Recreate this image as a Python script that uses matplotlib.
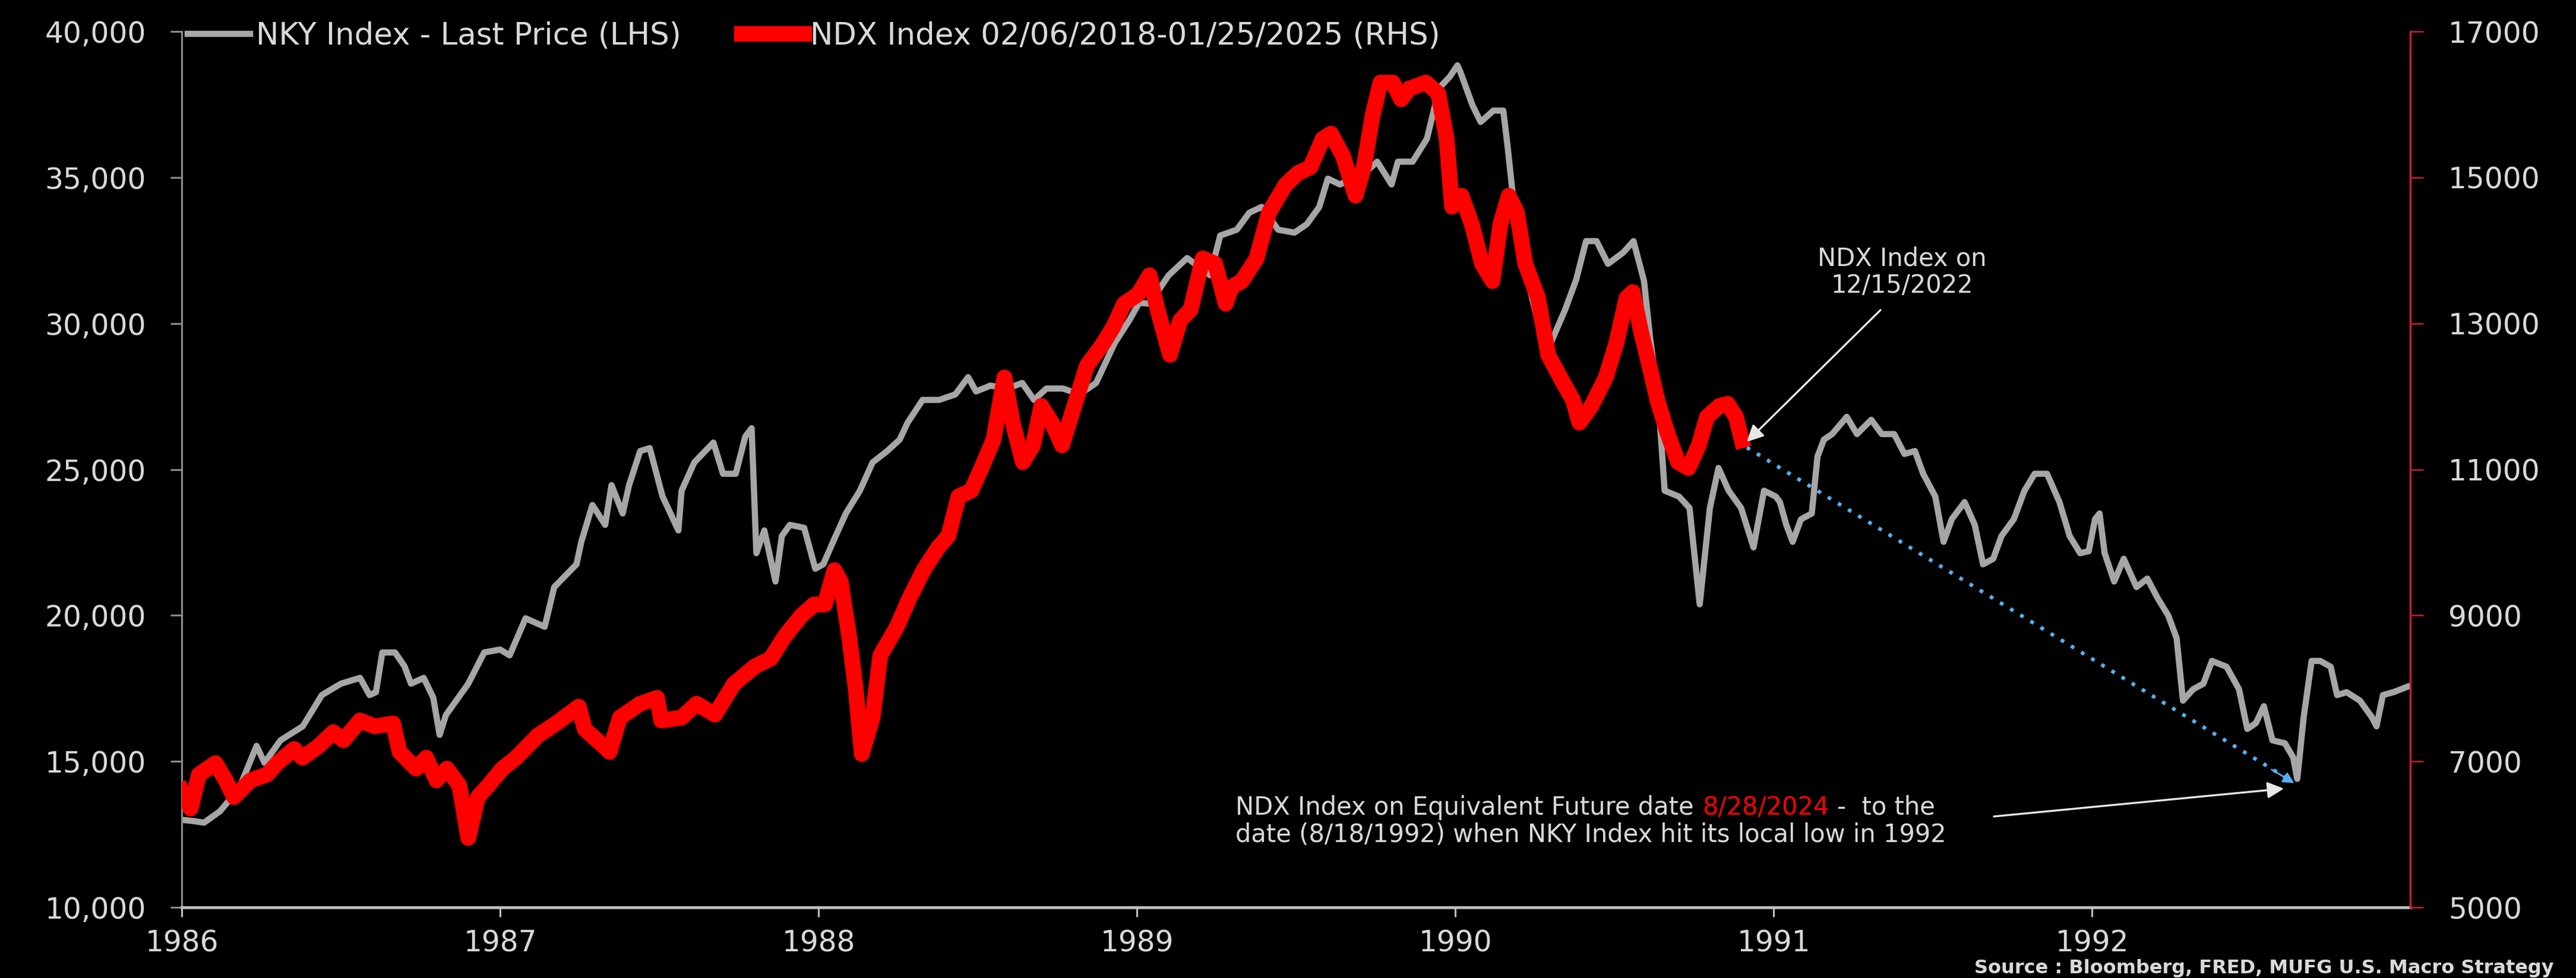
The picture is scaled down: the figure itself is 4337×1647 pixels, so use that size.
import matplotlib
matplotlib.use('Agg')
import matplotlib.pyplot as plt
from matplotlib.ticker import FuncFormatter

# ---------------- data (decimal years) ----------------
nky_t = [1986.00, 1986.04, 1986.07, 1986.12, 1986.18, 1986.235, 1986.26, 1986.31, 1986.38, 1986.44,
         1986.50, 1986.56, 1986.59, 1986.61, 1986.63, 1986.67, 1986.70, 1986.72, 1986.76, 1986.79,
         1986.81, 1986.83, 1986.90, 1986.95, 1987.00, 1987.03, 1987.08, 1987.14, 1987.17, 1987.24,
         1987.255, 1987.29, 1987.33, 1987.35, 1987.385, 1987.405, 1987.44, 1987.47, 1987.51, 1987.56,
         1987.57, 1987.61, 1987.67, 1987.70, 1987.74, 1987.77, 1987.79, 1987.805, 1987.83, 1987.865,
         1987.885, 1987.91, 1987.955, 1987.99, 1988.015, 1988.054, 1988.086, 1988.13, 1988.17, 1988.216,
         1988.255, 1988.28, 1988.327, 1988.379, 1988.43, 1988.47, 1988.495, 1988.54, 1988.593, 1988.64,
         1988.677, 1988.716, 1988.768, 1988.82, 1988.872, 1988.93, 1988.976, 1989.007, 1989.04, 1989.10,
         1989.158, 1989.23, 1989.262, 1989.314, 1989.353, 1989.392, 1989.444, 1989.495, 1989.534, 1989.573,
         1989.60, 1989.638, 1989.677, 1989.716, 1989.755, 1989.80, 1989.82, 1989.866, 1989.911, 1989.95,
         1989.983, 1990.007, 1990.015, 1990.054, 1990.08, 1990.12, 1990.151, 1990.164, 1990.18, 1990.216,
         1990.25, 1990.28, 1990.30, 1990.346, 1990.38, 1990.411, 1990.444, 1990.48, 1990.528, 1990.56,
         1990.593, 1990.612, 1990.638, 1990.658, 1990.703, 1990.736, 1990.768, 1990.80, 1990.827, 1990.859,
         1990.898, 1990.937, 1990.97, 1991.007, 1991.02, 1991.04, 1991.06, 1991.086, 1991.12, 1991.138,
         1991.158, 1991.184, 1991.23, 1991.262, 1991.307, 1991.34, 1991.379, 1991.411, 1991.444, 1991.47,
         1991.508, 1991.534, 1991.56, 1991.60, 1991.632, 1991.658, 1991.69, 1991.716, 1991.755, 1991.788,
         1991.82, 1991.859, 1991.898, 1991.93, 1991.963, 1991.99, 1992.01, 1992.024, 1992.04, 1992.07,
         1992.10, 1992.14, 1992.174, 1992.207, 1992.24, 1992.266, 1992.286, 1992.318, 1992.35, 1992.377,
         1992.423, 1992.462, 1992.488, 1992.515, 1992.54, 1992.567, 1992.606, 1992.632, 1992.645, 1992.665,
         1992.69, 1992.717, 1992.75, 1992.77, 1992.80, 1992.842, 1992.88, 1992.894, 1992.914, 1992.947,
         1992.992]
nky_v = [13000, 12950, 12900, 13290, 14070, 15530, 14950, 15720, 16200, 17270,
         17660, 17860, 17270, 17370, 18730, 18730, 18250, 17660, 17860, 17180,
         15910, 16590, 17660, 18730, 18830, 18630, 19900, 19610, 20970, 21750,
         22520, 23780, 23100, 24460, 23490, 24460, 25630, 25730, 24080, 22910,
         24270, 25240, 25920, 24850, 24850, 26120, 26410, 22130, 22910, 21160,
         22720, 23100, 23000, 21600, 21750, 22720, 23490, 24270, 25240, 25630,
         26020, 26600, 27380, 27380, 27570, 28160, 27670, 27870, 27770, 27960,
         27380, 27770, 27770, 27570, 27960, 29320, 30100, 30700, 30680, 31650,
         32240, 31650, 33010, 33210, 33790, 33990, 33210, 33110, 33400, 33990,
         34960, 34760, 34960, 35150, 35540, 34760, 35540, 35540, 36320, 38070,
         38450, 38840, 38650, 37480, 36900, 37290, 37290, 36120, 34500, 32000,
         30500, 29000, 29320, 30490, 31500, 32820, 32820, 32040, 32430, 32820,
         31460, 29520, 27380, 24270, 24070, 23680, 20380, 23680, 25050, 24270,
         23680, 22330, 24270, 24070, 23880, 23100, 22520, 23290, 23490, 25440,
         26020, 26210, 26800, 26210, 26700, 26210, 26210, 25530, 25630, 24850,
         24070, 22520, 23300, 23880, 23100, 21750, 21940, 22720, 23300, 24270,
         24850, 24850, 23880, 22720, 22130, 22200, 23300, 23490, 22130, 21160,
         21940, 20970, 21260, 20580, 19990, 19220, 17080, 17470, 17660, 18440,
         18240, 17470, 16110, 16310, 16890, 15720, 15620, 15140, 14400, 16500,
         18440, 18440, 18240, 17270, 17370, 17080, 16500, 16200, 17270, 17370,
         17560]

ndx_t = [1986.00, 1986.028, 1986.054, 1986.106, 1986.138, 1986.164, 1986.216, 1986.268, 1986.30, 1986.353,
         1986.379, 1986.43, 1986.476, 1986.508, 1986.56, 1986.606, 1986.664, 1986.684, 1986.736, 1986.768,
         1986.80, 1986.833, 1986.872, 1986.90, 1986.93, 1986.963, 1987.007, 1987.05, 1987.12, 1987.176,
         1987.247, 1987.266, 1987.325, 1987.344, 1987.376, 1987.44, 1987.493, 1987.506, 1987.57, 1987.617,
         1987.675, 1987.734, 1987.80, 1987.85, 1987.896, 1987.947, 1987.986, 1988.02, 1988.05, 1988.07,
         1988.097, 1988.117, 1988.136, 1988.17, 1988.194, 1988.246, 1988.285, 1988.33, 1988.376, 1988.408,
         1988.44, 1988.48, 1988.512, 1988.55, 1988.584, 1988.61, 1988.642, 1988.674, 1988.70, 1988.733,
         1988.765, 1988.798, 1988.843, 1988.895, 1988.927, 1988.96, 1989.004, 1989.04, 1989.065, 1989.104,
         1989.136, 1989.169, 1989.207, 1989.246, 1989.279, 1989.298, 1989.33, 1989.376, 1989.415, 1989.467,
         1989.506, 1989.545, 1989.584, 1989.61, 1989.648, 1989.687, 1989.713, 1989.74, 1989.765, 1989.804,
         1989.83, 1989.856, 1989.908, 1989.947, 1989.973, 1989.99, 1990.02, 1990.052, 1990.084, 1990.117,
         1990.142, 1990.168, 1990.194, 1990.22, 1990.26, 1990.292, 1990.33, 1990.37, 1990.39, 1990.428,
         1990.473, 1990.506, 1990.538, 1990.558, 1990.584, 1990.61, 1990.635, 1990.668, 1990.70, 1990.733,
         1990.765, 1990.791, 1990.83, 1990.856, 1990.882, 1990.90]
ndx_v = [6600, 6354, 6820, 6976, 6740, 6510, 6740, 6820, 6976, 7170,
         7050, 7210, 7400, 7290, 7560, 7480, 7520, 7130, 6900, 7050,
         6740, 6900, 6670, 5950, 6510, 6670, 6900, 7050, 7360, 7520,
         7750, 7440, 7210, 7130, 7600, 7790, 7870, 7560, 7600, 7790,
         7640, 8060, 8300, 8410, 8725, 9000, 9150, 9150, 9620, 9460,
         8690, 7990, 7100, 7600, 8450, 8840, 9230, 9620, 9930, 10090,
         10630, 10710, 11020, 11410, 12260, 11640, 11100, 11330, 11870, 11640,
         11330, 11790, 12420, 12730, 12960, 13270, 13400, 13660, 13190, 12570,
         13040, 13190, 13890, 13820, 13270, 13500, 13580, 13890, 14520, 14900,
         15060, 15140, 15530, 15600, 15290, 14750, 15140, 15840, 16300, 16300,
         16070, 16220, 16300, 16150, 15530, 14600, 14750, 14360, 13820, 13580,
         14360, 14750, 14520, 13820, 13350, 12570, 12260, 11950, 11640, 11870,
         12260, 12730, 13350, 13430, 12880, 12420, 11950, 11480, 11100, 11020,
         11330, 11720, 11870, 11900, 11720, 11400]

year_ticks = [1986, 1987, 1988, 1989, 1990, 1991, 1992]
year_labels = ['1986', '1987', '1988', '1989', '1990', '1991', '1992']
left_ticks = [10000, 15000, 20000, 25000, 30000, 35000, 40000]
right_ticks = [5000, 7000, 9000, 11000, 13000, 15000, 17000]

nky_label = 'NKY Index - Last Price (LHS)'
ndx_label = 'NDX Index 02/06/2018-01/25/2025 (RHS)'

# ---------------- figure ----------------
W, H, DPI = 4337, 1647, 100
fig = plt.figure(figsize=(W / DPI, H / DPI), dpi=DPI, facecolor='black')
ax = fig.add_axes([306 / W, 1 - 1528 / H, (4058 - 306) / W, (1528 - 53) / H])
ax.set_facecolor('black')
ax2 = ax.twinx()

TXT = '#d9d9d9'
GRAY = '#a6a6a6'
RED = '#ff0000'
SPINE_RED = '#c8202a'
BLUE = '#55b0f0'
FS_TICK = 35
FS_ANN = 30

l1, = ax.plot(nky_t, nky_v, color=GRAY, lw=7.5, solid_joinstyle='round', label=nky_label, zorder=2)
l2, = ax2.plot(ndx_t, ndx_v, color=RED, lw=19.0, solid_joinstyle='round', label=ndx_label, zorder=3)

ax.set_xlim(1986, 1993)
ax.set_ylim(10000, 40000)
ax2.set_ylim(5000, 17000)

ax.set_xticks(year_ticks)
ax.set_xticklabels(year_labels)
ax.set_yticks(left_ticks)
ax.yaxis.set_major_formatter(FuncFormatter(lambda v, p: f'{int(v):,}'))
ax2.set_yticks(right_ticks)
ax2.yaxis.set_major_formatter(FuncFormatter(lambda v, p: f'{int(v)}'))

for s in ['top', 'right']:
    ax.spines[s].set_visible(False)
ax.spines['left'].set_color('#8c8c8c')
ax.spines['left'].set_linewidth(2.2)
ax.spines['bottom'].set_color('#bfbfbf')
ax.spines['bottom'].set_linewidth(3.5)
for s in ['top', 'left', 'bottom']:
    ax2.spines[s].set_visible(False)
ax2.spines['right'].set_color(SPINE_RED)
ax2.spines['right'].set_linewidth(2.5)

ax.tick_params(axis='y', direction='out', length=13.5, width=2.2, color='#8c8c8c',
               labelcolor=TXT, labelsize=FS_TICK, pad=30)
ax.tick_params(axis='x', direction='out', length=11.5, width=2.2, color='#bfbfbf',
               labelcolor=TXT, labelsize=FS_TICK, pad=15)
ax2.tick_params(axis='y', direction='out', length=16, width=1.8, color=SPINE_RED,
                labelcolor=TXT, labelsize=FS_TICK, pad=30)

# legend
fig.legend(handles=[l1, l2], labels=[nky_label, ndx_label], loc='upper left',
           bbox_to_anchor=(316 / W, 1 - 36 / H), ncol=2, frameon=False, fontsize=37,
           labelcolor=TXT, handlelength=2.05, handletextpad=0.18, columnspacing=2.0,
           borderpad=0, borderaxespad=0)

# blue dotted connector
ax2.plot([1990.916, 1992.632], [11300, 6717], color=BLUE, lw=4.5,
         linestyle=(0, (1, 2.2)), zorder=4)
ax2.annotate('', xy=(1992.64, 6690), xytext=(1992.56, 6900),
             arrowprops=dict(arrowstyle='-|>', color=BLUE, lw=2, mutation_scale=28), zorder=4)

# annotation 1
ax2.annotate('', xy=(1990.916, 11378), xytext=(1991.336, 13184),
             arrowprops=dict(arrowstyle='-|>', color='#e6e6e6', lw=2.4, mutation_scale=42,
                             shrinkA=0, shrinkB=0), zorder=5)
ax2.text(1991.403, 13700, 'NDX Index on\n12/15/2022', color=TXT, fontsize=FS_ANN,
         ha='center', va='center', multialignment='center', linespacing=1.1, zorder=5)

# annotation 2
ax2.annotate('', xy=(1992.603, 6627), xytext=(1991.692, 6245),
             arrowprops=dict(arrowstyle='-|>', color='#e6e6e6', lw=2.4, mutation_scale=42,
                             shrinkA=0, shrinkB=0), zorder=5)
t1 = ax2.text(1989.31, 6367, 'NDX Index on Equivalent Future date', color=TXT, fontsize=FS_ANN,
              ha='left', va='center', zorder=5)
t2 = ax2.annotate('8/28/2024', xy=(1, 0.5), xycoords=t1, xytext=(10, 0), textcoords='offset points',
                  color=RED, fontsize=FS_ANN, ha='left', va='center', zorder=5)
ax2.annotate('-  to the', xy=(1, 0.5), xycoords=t2, xytext=(10, 0), textcoords='offset points',
             color=TXT, fontsize=FS_ANN, ha='left', va='center', zorder=5)
ax2.text(1989.31, 5990, 'date (8/18/1992) when NKY Index hit its local low in 1992', color=TXT,
         fontsize=FS_ANN, ha='left', va='center', zorder=5)

# source
fig.text(4300 / W, 1 - 1630 / H, 'Source : Bloomberg, FRED, MUFG U.S. Macro Strategy',
         color=TXT, fontsize=23, fontweight='bold', ha='right', va='center')

fig.savefig('out.png', dpi=DPI, facecolor='black')
